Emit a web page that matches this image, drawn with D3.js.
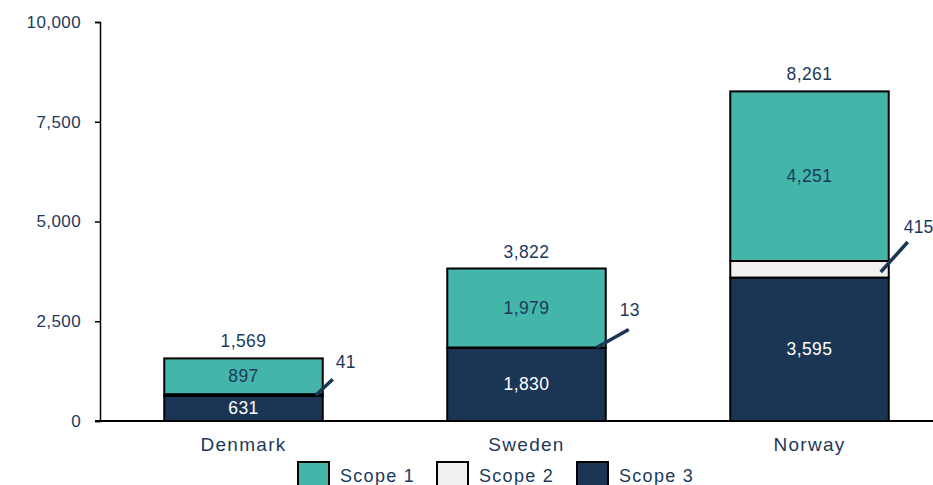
<!DOCTYPE html>
<html>
<head>
<meta charset="utf-8">
<script src="https://cdn.jsdelivr.net/npm/d3@7"></script>
<style>
  body { margin: 0; background: #fff; }
  text { font-family: "Liberation Sans", Arial, sans-serif; fill: #1d3a5c; }
</style>
</head>
<body>
<div id="vis"></div>
<script>
// data
let countries = ['Denmark', 'Sweden', 'Norway'];
let scope1 = [897, 1979, 4251];
let scope2 = [41, 13, 415];
let scope3 = [631, 1830, 3595];
let totals = [1569, 3822, 8261];
let yTicks = [0, 2500, 5000, 7500, 10000];
let seriesNames = ['Scope 1', 'Scope 2', 'Scope 3'];
let colors = ['#43b5a9', '#f0f0f0', '#1b3654'];

let width = 933, height = 485;

let svg = d3.select('#vis')
  .append('svg')
  .attr('width', width)
  .attr('height', height);

let x = d3.scaleBand()
  .domain(countries)
  .range([102, 951])
  .paddingInner(0.44)
  .paddingOuter(0.22);

let y = d3.scaleLinear()
  .domain([0, 10000])
  .range([421, 22]);

// y axis
let yAxis = svg.append('g')
  .attr('transform', 'translate(100,0)')
  .call(d3.axisLeft(y).tickValues(yTicks).tickSize(5).tickPadding(14).tickFormat(d3.format(',')));
yAxis.select('.domain').attr('stroke', '#000').attr('stroke-width', 1.5);
yAxis.selectAll('.tick line').attr('stroke', '#000').attr('stroke-width', 1.5);
yAxis.selectAll('.tick text')
  .style('font-size', '17px')
  .style('letter-spacing', '0.4px')
  .attr('fill', '#1d3a5c');

// stacked bars, bottom to top: scope 3, scope 2, scope 1
let rows = countries.map((c, i) => ({ country: c, s3: scope3[i], s2: scope2[i], s1: scope1[i] }));
let stack = d3.stack().keys(['s3', 's2', 's1'])(rows);
let colorOf = { s1: colors[0], s2: colors[1], s3: colors[2] };

stack.forEach(layer => {
  svg.append('g').selectAll('rect')
    .data(layer)
    .join('rect')
    .attr('x', d => x(d.data.country))
    .attr('y', d => y(d[1]))
    .attr('width', x.bandwidth())
    .attr('height', d => y(d[0]) - y(d[1]))
    .attr('fill', colorOf[layer.key])
    .attr('stroke', '#000')
    .attr('stroke-width', 2);
});

// x axis line
svg.append('line')
  .attr('x1', 95).attr('x2', 933)
  .attr('y1', y(0)).attr('y2', y(0))
  .attr('stroke', '#000')
  .attr('stroke-width', 2);

// segment labels for scope 3 and scope 1
stack.filter(l => l.key !== 's2').forEach(layer => {
  svg.append('g').selectAll('text')
    .data(layer)
    .join('text')
    .attr('x', d => x(d.data.country) + x.bandwidth() / 2)
    .attr('y', d => (y(d[0]) + y(d[1])) / 2 + 1)
    .attr('text-anchor', 'middle')
    .attr('dominant-baseline', 'middle')
    .style('font-size', '17.5px')
    .style('letter-spacing', '0.4px')
    .style('fill', layer.key === 's3' ? '#ffffff' : '#1d3a5c')
    .text(d => d3.format(',')(d.data[layer.key]));
});

// totals
svg.append('g').selectAll('text')
  .data(countries)
  .join('text')
  .attr('x', d => x(d) + x.bandwidth() / 2)
  .attr('y', (d, i) => y(totals[i]) - 11)
  .attr('text-anchor', 'middle')
  .style('font-size', '17.5px')
  .style('letter-spacing', '0.4px')
  .text((d, i) => d3.format(',')(totals[i]));

// scope 2 leader lines and labels (small segments get callouts)
let s2layer = stack[1];
let leaderStart = [[-7, 1], [-9, 0], [-8, 11]];
let leaderVec = [[17, -16], [32, -18], [27, -30]];
let labelOff = [[3, -16], [-9, -18], [-4, -14]];
s2layer.forEach((d, i) => {
  let x0 = x(d.data.country) + x.bandwidth() + leaderStart[i][0];
  let y0 = y(d[1]) + leaderStart[i][1];
  let x1 = x0 + leaderVec[i][0], y1 = y0 + leaderVec[i][1];
  svg.append('line')
    .attr('x1', x0).attr('y1', y0)
    .attr('x2', x1).attr('y2', y1)
    .attr('stroke', '#1b3654')
    .attr('stroke-width', 3.5);
  svg.append('text')
    .attr('x', x1 + labelOff[i][0])
    .attr('y', y1 + labelOff[i][1])
    .attr('dominant-baseline', 'middle')
    .style('font-size', '17.5px')
    .style('letter-spacing', '0.2px')
    .text(d3.format(',')(scope2[i]));
});

// category labels
svg.append('g').selectAll('text')
  .data(countries)
  .join('text')
  .attr('x', d => x(d) + x.bandwidth() / 2)
  .attr('y', 451)
  .attr('text-anchor', 'middle')
  .style('font-size', '19px')
  .style('letter-spacing', '1.3px')
  .text(d => d);

// legend
let legendX = [298, 437, 577];
let legend = svg.append('g').selectAll('g')
  .data(seriesNames)
  .join('g')
  .attr('transform', (d, i) => `translate(${legendX[i]},462)`);
legend.append('rect')
  .attr('width', 31).attr('height', 30)
  .attr('fill', (d, i) => colors[i])
  .attr('stroke', '#000')
  .attr('stroke-width', 2);
legend.append('text')
  .attr('x', 42)
  .attr('y', 20)
  .style('font-size', '18px')
  .style('letter-spacing', '1.3px')
  .text(d => d);
</script>
</body>
</html>
